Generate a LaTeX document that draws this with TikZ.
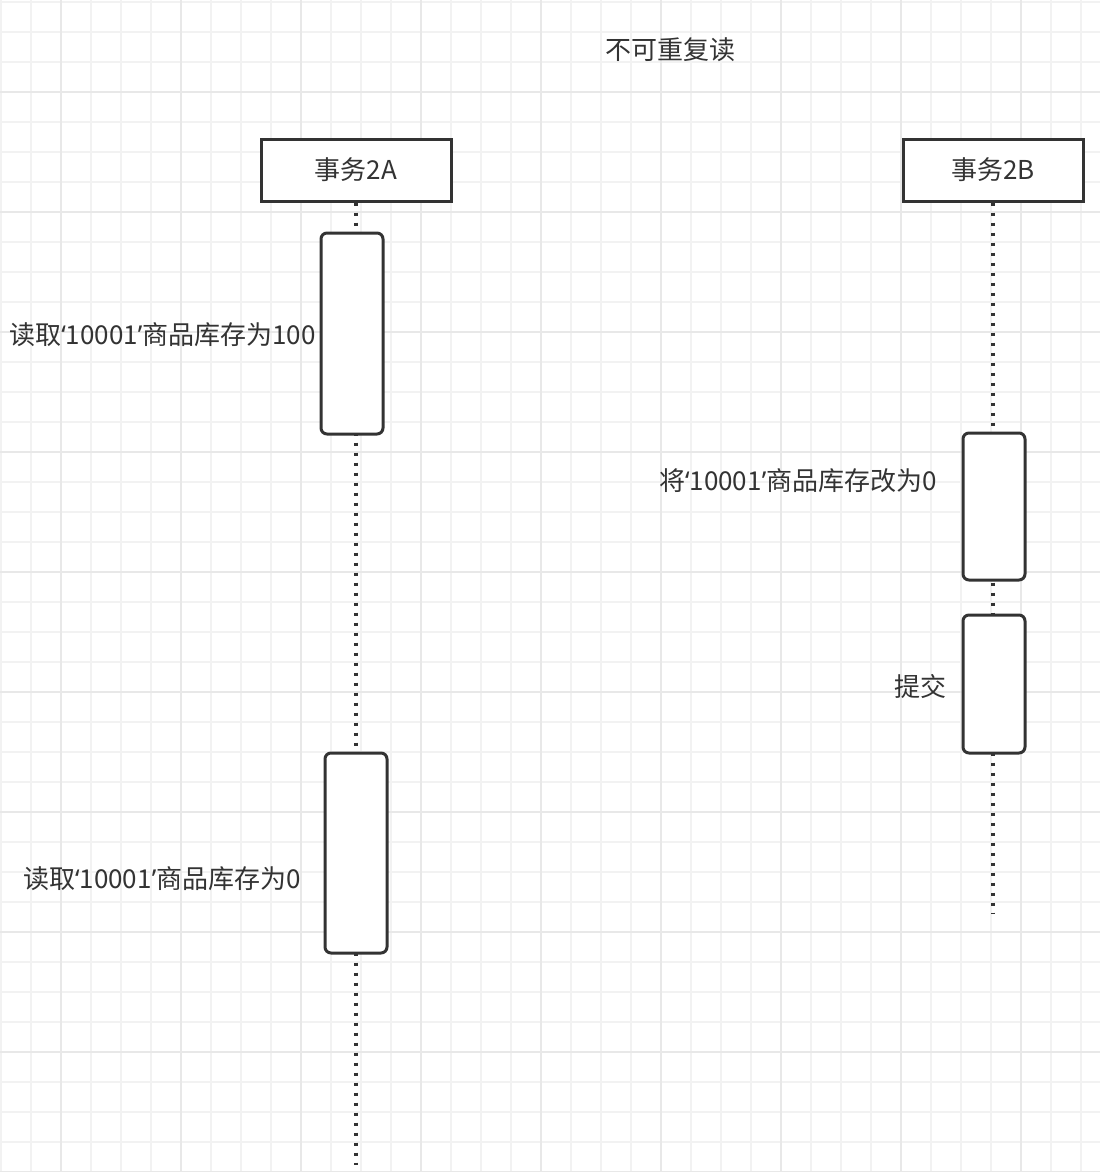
\documentclass[tikz,border=0pt]{standalone}
\usepackage{fontspec}
\setmainfont{Noto Sans CJK SC}
\newfontfamily\latf{Noto Sans}
\newcommand{\myLq}{{\latf ‘}}
\newcommand{\myRq}{{\latf ’}}
\definecolor{ink}{HTML}{333333}
\definecolor{gminor}{HTML}{F2F2F2}
\definecolor{gmajor}{HTML}{E8E8E8}
\tikzset{
  minorline/.style={gminor, line width=1.5pt},
  majorline/.style={gmajor, line width=1.5pt},
  headbox/.style={draw=ink, line width=3pt, fill=white, minimum height=62pt, text=ink, font=\fontsize{26}{30}\selectfont, inner sep=0pt},
  actbox/.style={draw=ink, line width=3pt, fill=white, rounded corners=6pt, minimum width=62pt, inner sep=0pt},
  lifeline/.style={ink, line width=3.5pt, dash pattern=on 3.5pt off 6.5pt},
  lbl/.style={text=ink, font=\fontsize{26}{30}\selectfont, inner sep=0pt, anchor=east},
}
\begin{document}
\begin{tikzpicture}[x=1pt,y=-1pt]
\useasboundingbox (0,0) rectangle (1100,1172);
\fill[white] (0,0) rectangle (1100,1172);
% grid
\foreach \k in {0,...,36} { \draw[minorline] (1+30*\k,0) -- (1+30*\k,1172); }
\foreach \k in {0,...,39} { \draw[minorline] (0,2+30*\k) -- (1100,2+30*\k); }
\foreach \k in {0,...,8} { \draw[majorline] (61+120*\k,0) -- (61+120*\k,1172); }
\foreach \k in {0,...,9} { \draw[majorline] (0,92+120*\k) -- (1100,92+120*\k); }
% title
\node[text=ink, font=\fontsize{26}{30}\selectfont, inner sep=0pt] (title) at (670,50) {不可重复读};
% headers
\node[headbox, minimum width=190pt] (A) at (356,170) {事务2A};
\node[headbox, minimum width=180pt] (B) at (993,170) {事务2B};
% lifelines
\coordinate (Aend) at (356,1165);
\coordinate (Bend) at (993,913);
\draw[lifeline] (A.south) -- (Aend);
\draw[lifeline] (B.south) -- (Bend);
% activations
\node[actbox, minimum height=201pt] (a1) at (352,333.5) {};
\node[actbox, minimum height=147pt] (b1) at (994,506.5) {};
\node[actbox, minimum height=138pt] (b2) at (994,684) {};
\node[actbox, minimum height=200pt] (a2) at (356,853) {};
% labels
\node[lbl] (l1) at (316,335) {读取\myLq10001\myRq 商品库存为100};
\node[lbl] (l2) at (937,481) {将\myLq10001\myRq 商品库存改为0};
\node[lbl] (l3) at (947,687) {提交};
\node[lbl] (l4) at (301,879) {读取\myLq10001\myRq 商品库存为0};
\end{tikzpicture}
\end{document}
